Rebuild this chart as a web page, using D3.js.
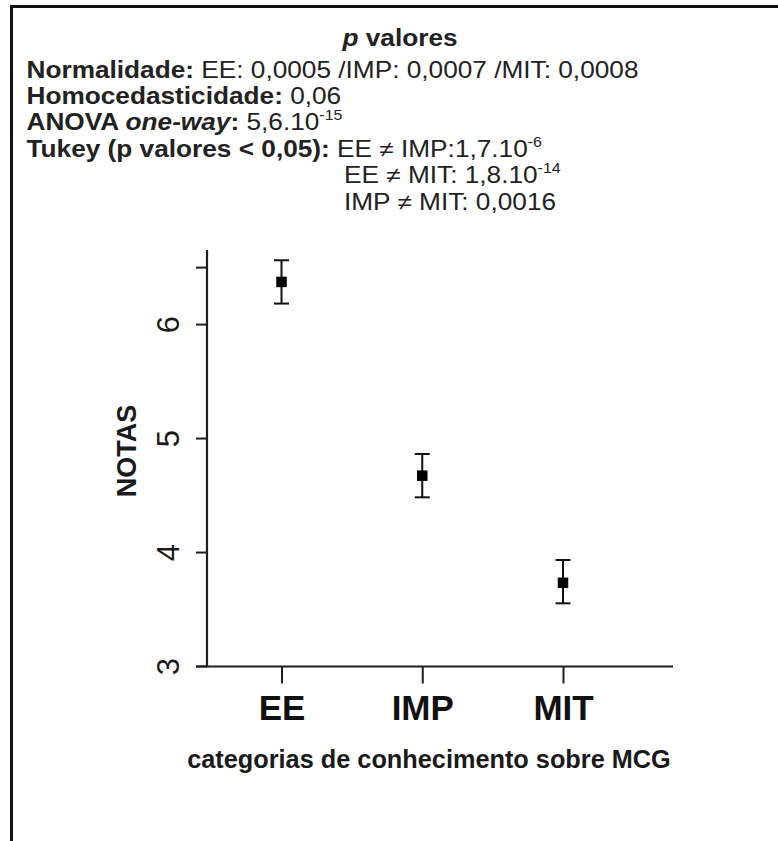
<!DOCTYPE html>
<html>
<head>
<meta charset="utf-8">
<script src="https://cdn.jsdelivr.net/npm/d3@7"></script>
<style>
  body { margin: 0; background: #fff; }
  svg { display: block; }
</style>
</head>
<body>
<div id="chart"></div>
<script>
// groups and their mean scores with interval ends
var categories = ["EE", "IMP", "MIT"];
var means = [6.37, 4.67, 3.73];
var lower = [6.18, 4.48, 3.55];
var upper = [6.56, 4.86, 3.93];

// y axis ticks (top one has no label)
var yTicks = [3, 4, 5, 6, 6.5];
var yTickLabels = ["3", "4", "5", "6", ""];

// p-value text block, one array of segments per line
var titleLine = [
    { t: "p", b: true, i: true },
    { t: " valores", b: true }
];
var statLines = [
    [{ t: "Normalidade: ", b: true }, { t: "EE: 0,0005 /IMP: 0,0007 /MIT: 0,0008" }],
    [{ t: "Homocedasticidade: ", b: true }, { t: "0,06" }],
    [{ t: "ANOVA ", b: true }, { t: "one-way", b: true, i: true }, { t: ": ", b: true }, { t: "5,6.10" }, { t: "-15", sup: true }],
    [{ t: "Tukey (p valores < 0,05): ", b: true }, { t: "EE \u2260 IMP:1,7.10" }, { t: "-6", sup: true }]
];
var tukeyLines = [
    [{ t: "EE \u2260 MIT: 1,8.10" }, { t: "-14", sup: true }],
    [{ t: "IMP \u2260 MIT: 0,0016" }]
];

var W = 778, H = 841;
var svg = d3.select("#chart").append("svg")
    .attr("width", W)
    .attr("height", H);

// frame: only top and left edges show
svg.append("line").attr("x1", 10).attr("x2", W).attr("y1", 6.5).attr("y2", 6.5)
    .attr("stroke", "#111").attr("stroke-width", 3);
svg.append("line").attr("x1", 11.5).attr("x2", 11.5).attr("y1", 5).attr("y2", H)
    .attr("stroke", "#111").attr("stroke-width", 3);

// draws one line of mixed-style text, stretched a bit horizontally like the source
function textLine(x, y, segs, anchor) {
    var t = svg.append("text")
        .attr("transform", "translate(" + x + "," + y + ") scale(1.14,1)")
        .attr("font-family", "'Liberation Sans', Arial, sans-serif")
        .attr("font-size", 23)
        .attr("fill", "#222")
        .attr("text-anchor", anchor || "start");
    segs.forEach(function(s, k) {
        var sp = t.append("tspan").text(s.t)
            .attr("font-weight", s.b ? "bold" : "normal")
            .attr("font-style", s.i ? "italic" : "normal");
        if (s.sup) {
            sp.attr("font-size", 14).attr("dy", -10);
        } else if (k > 0 && segs[k - 1].sup) {
            sp.attr("dy", 10);
        }
    });
    return t;
}

textLine(400, 46, titleLine, "middle");
var lineGap = 26.4;
statLines.forEach(function(segs, i) {
    textLine(26.5, 77.5 + i * lineGap, segs);
});
tukeyLines.forEach(function(segs, i) {
    textLine(344, 77.5 + (statLines.length + i) * lineGap, segs);
});

// chart area
var x = d3.scalePoint()
    .domain(categories)
    .range([281.5, 563]);

var y = d3.scaleLinear()
    .domain([3, 6.65])
    .range([666, 250]);

var axisColor = "#1e1e1e";

// y axis
var yAxis = svg.append("g")
    .attr("transform", "translate(207,0)")
    .call(d3.axisLeft(y)
        .tickValues(yTicks)
        .tickSize(11)
        .tickPadding(14)
        .tickFormat(function(d, i) { return yTickLabels[i]; }));
yAxis.select(".domain").attr("stroke", axisColor).attr("stroke-width", 2.2)
    .attr("d", "M0," + y.range()[1] + "V" + y.range()[0]);
yAxis.selectAll(".tick line").attr("stroke", axisColor).attr("stroke-width", 2);
yAxis.selectAll(".tick text")
    .attr("font-family", "'Liberation Sans', Arial, sans-serif")
    .attr("font-size", 31)
    .attr("fill", "#1a1a1a")
    .attr("text-anchor", "middle")
    .attr("dy", null)
    .attr("x", null)
    .attr("transform", "translate(-39,0) rotate(-90)")
    .attr("y", 0)
    .attr("dominant-baseline", "central");

// x axis
var xAxis = svg.append("g")
    .attr("transform", "translate(0,666.5)")
    .call(d3.axisBottom(x).tickSize(17).tickPadding(10));
xAxis.select(".domain").attr("stroke", axisColor).attr("stroke-width", 2.2)
    .attr("d", "M196,0H673");
xAxis.selectAll(".tick line").attr("stroke", axisColor).attr("stroke-width", 2);
xAxis.selectAll(".tick text")
    .attr("font-family", "'Liberation Sans', Arial, sans-serif")
    .attr("font-weight", "bold")
    .attr("font-size", 35)
    .attr("fill", "#111")
    .attr("dy", null)
    .attr("y", 53);

// axis titles
svg.append("text")
    .attr("x", 429)
    .attr("y", 768)
    .attr("text-anchor", "middle")
    .attr("font-family", "'Liberation Sans', Arial, sans-serif")
    .attr("font-weight", "bold")
    .attr("font-size", 25.3)
    .attr("fill", "#1a1a1a")
    .text("categorias de conhecimento sobre MCG");

svg.append("text")
    .attr("transform", "translate(136,451) rotate(-90)")
    .attr("text-anchor", "middle")
    .attr("font-family", "'Liberation Sans', Arial, sans-serif")
    .attr("font-weight", "bold")
    .attr("font-size", 27)
    .attr("fill", "#1a1a1a")
    .text("NOTAS");

// error bars
var capW = 15;
var bars = svg.append("g").selectAll("g")
    .data(categories)
    .enter()
    .append("g");

bars.append("line")
    .attr("x1", function(d) { return x(d); })
    .attr("x2", function(d) { return x(d); })
    .attr("y1", function(d, i) { return y(upper[i]); })
    .attr("y2", function(d, i) { return y(lower[i]); })
    .attr("stroke", "#111").attr("stroke-width", 2);

bars.append("line")
    .attr("x1", function(d) { return x(d) - capW / 2; })
    .attr("x2", function(d) { return x(d) + capW / 2; })
    .attr("y1", function(d, i) { return y(upper[i]); })
    .attr("y2", function(d, i) { return y(upper[i]); })
    .attr("stroke", "#111").attr("stroke-width", 2);

bars.append("line")
    .attr("x1", function(d) { return x(d) - capW / 2; })
    .attr("x2", function(d) { return x(d) + capW / 2; })
    .attr("y1", function(d, i) { return y(lower[i]); })
    .attr("y2", function(d, i) { return y(lower[i]); })
    .attr("stroke", "#111").attr("stroke-width", 2);

// mean markers
var sq = 10.5;
bars.append("rect")
    .attr("x", function(d) { return x(d) - sq / 2; })
    .attr("y", function(d, i) { return y(means[i]) - sq / 2; })
    .attr("width", sq)
    .attr("height", sq)
    .attr("fill", "#000");
</script>
</body>
</html>
